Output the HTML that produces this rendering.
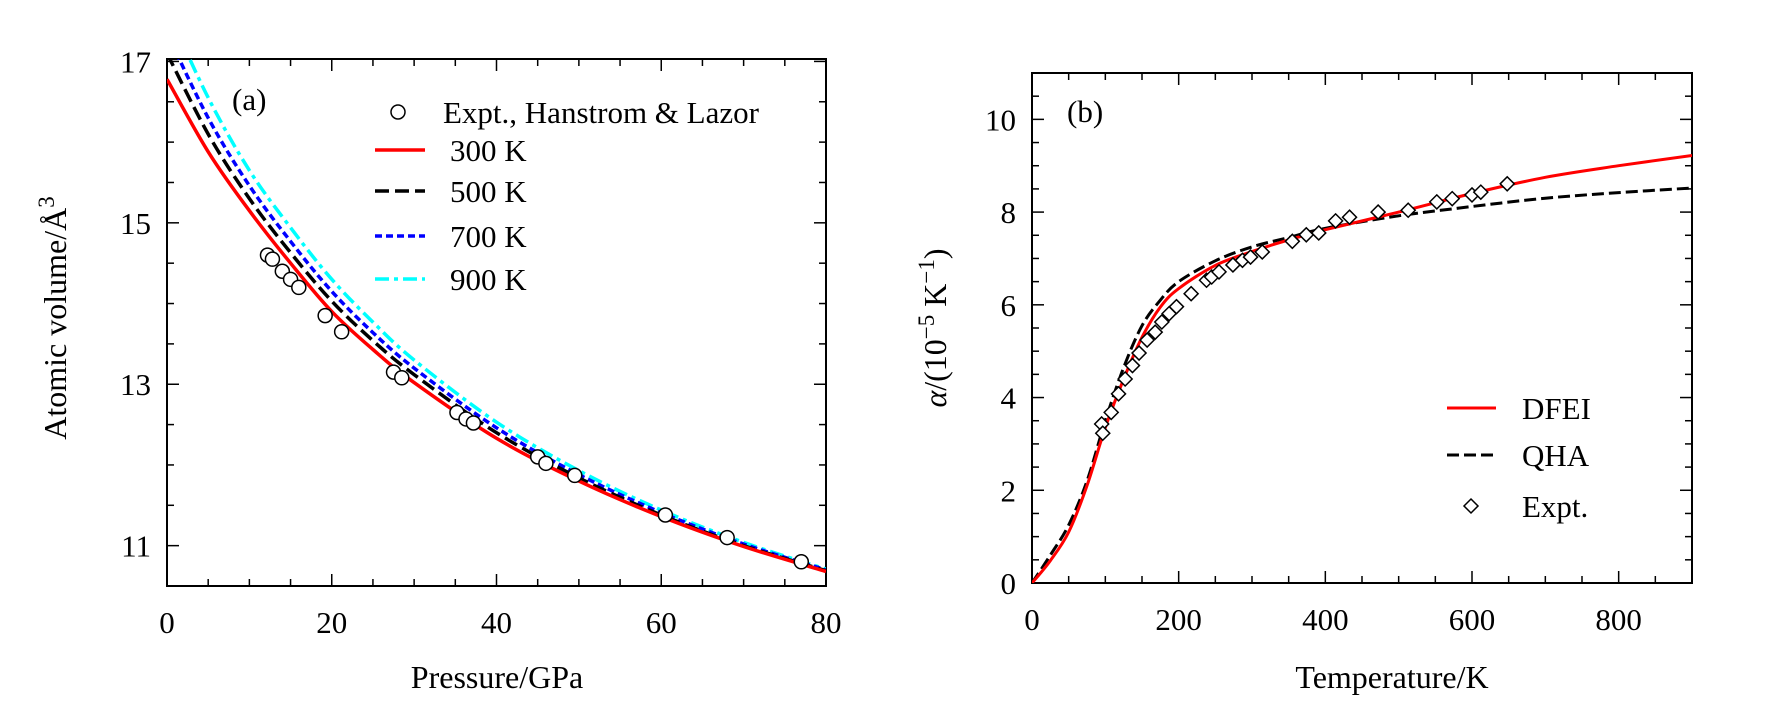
<!DOCTYPE html>
<html><head><meta charset="utf-8"><style>
body{margin:0;background:#fff;}
svg{display:block;font-family:"Liberation Serif",serif;}
</style></head><body>
<svg id="fig" width="1772" height="709" viewBox="0 0 1772 709"></svg>
<script>
// ---- Panel (a) data ----
const aPressure = [0,5,10,15,20,25,30,40,50,60,70,80];
const a300 = [16.78,15.88,15.15,14.5,13.9,13.43,13.02,12.33,11.8,11.36,10.99,10.68];
const a500 = [17.1,16.1,15.3,14.63,14.03,13.54,13.12,12.4,11.84,11.38,11.0,10.69];
const a700 = [17.35,16.3,15.46,14.77,14.15,13.64,13.2,12.46,11.88,11.41,11.02,10.7];
const a900 = [17.65,16.55,15.65,14.94,14.3,13.77,13.3,12.53,11.93,11.44,11.04,10.71];
const aExpP = [12.2,12.8,14,15,16,19.2,21.2,27.5,28.5,35.2,36.3,37.2,45,46,49.5,60.5,68,77];
const aExpV = [14.6,14.55,14.4,14.3,14.2,13.85,13.65,13.15,13.08,12.65,12.57,12.52,12.1,12.02,11.87,11.38,11.1,10.8];
const aXTicks = [0,20,40,60,80];
const aYTicks = [11,13,15,17];
// ---- Panel (b) data ----
const bT = [0,25,50,75,100,125,150,175,200,250,300,350,400,500,600,700,800,900];
const bDFEI = [0,0.48,1.1,2.1,3.35,4.4,5.3,5.95,6.35,6.85,7.15,7.4,7.62,8.0,8.4,8.75,9.0,9.22];
const bQHA = [0,0.6,1.25,2.2,3.5,4.65,5.55,6.1,6.5,6.95,7.25,7.45,7.65,7.92,8.12,8.3,8.42,8.52];
const bExpT = [95,96.5,108,118,127,137,146,157,168,177,187,197,217,238,245,255,274,287,298,314,355,374,391,414,433,472,513,552,573,600,612,648];
const bExpA = [3.43,3.23,3.68,4.08,4.4,4.69,4.96,5.24,5.41,5.63,5.81,5.96,6.24,6.53,6.6,6.71,6.86,6.96,7.03,7.14,7.37,7.51,7.55,7.81,7.89,8.0,8.04,8.22,8.29,8.37,8.43,8.61];
const bXTicks = [0,200,400,600,800];
const bYTicks = [0,2,4,6,8,10];

const NS="http://www.w3.org/2000/svg";
const svg=document.getElementById('fig');
function mk(tag,attrs,parent){const e=document.createElementNS(NS,tag);for(const k in attrs)e.setAttribute(k,attrs[k]);(parent||svg).appendChild(e);return e;}

const A={l:167,r:826,t:59,b:586,x0:0,x1:80,y0:10.5,y1:17.03};
const B={l:1032,r:1692,t:73,b:583,x0:0,x1:900,y0:0,y1:11.0};
function sx(P,v){return P.l+(v-P.x0)/(P.x1-P.x0)*(P.r-P.l);}
function sy(P,v){return P.b-(v-P.y0)/(P.y1-P.y0)*(P.b-P.t);}
function smooth(pts){let d='M'+pts[0][0].toFixed(1)+','+pts[0][1].toFixed(1);
 for(let i=0;i<pts.length-1;i++){const p0=pts[Math.max(0,i-1)],p1=pts[i],p2=pts[i+1],p3=pts[Math.min(pts.length-1,i+2)];
  const c1=[p1[0]+(p2[0]-p0[0])/6,p1[1]+(p2[1]-p0[1])/6],c2=[p2[0]-(p3[0]-p1[0])/6,p2[1]-(p3[1]-p1[1])/6];
  d+=' C'+c1[0].toFixed(1)+','+c1[1].toFixed(1)+' '+c2[0].toFixed(1)+','+c2[1].toFixed(1)+' '+p2[0].toFixed(1)+','+p2[1].toFixed(1);}
 return d;}

const defs=mk('defs',{});
const cpA=mk('clipPath',{id:'clipA'},defs);mk('rect',{x:A.l,y:A.t,width:A.r-A.l,height:A.b-A.t},cpA);
const cpB=mk('clipPath',{id:'clipB'},defs);mk('rect',{x:B.l,y:B.t,width:B.r-B.l,height:B.b-B.t},cpB);

function frame(P,name,xMinor,yMinor,xTicks,yTicks){
 const g=mk('g',{});
 
 
 mk('rect',{x:P.l,y:P.t,width:P.r-P.l,height:P.b-P.t,fill:'none',stroke:'#000','stroke-width':2},g);
 for(let v=P.x0;v<=P.x1+1e-6;v+=xMinor){const x=sx(P,v);const major=xTicks.some(t=>Math.abs(t-v)<1e-6);const L=major?12:7;
  mk('line',{x1:x,y1:P.b,x2:x,y2:P.b-L,stroke:'#000','stroke-width':1.5},g);mk('line',{x1:x,y1:P.t,x2:x,y2:P.t+L,stroke:'#000','stroke-width':1.5},g);}
 let start=Math.ceil(P.y0/yMinor-1e-6)*yMinor;
 for(let v=start;v<=P.y1+1e-6;v+=yMinor){const y=sy(P,v);const major=yTicks.some(t=>Math.abs(t-v)<1e-6);const L=major?12:7;
  mk('line',{x1:P.l,y1:y,x2:P.l+L,y2:y,stroke:'#000','stroke-width':1.5},g);mk('line',{x1:P.r,y1:y,x2:P.r-L,y2:y,stroke:'#000','stroke-width':1.5},g);}
 xTicks.forEach(t=>{const e=mk('text',{x:sx(P,t),y:P.b+47,'font-size':31,'text-anchor':'middle'},g);e.textContent=t;
  });
 yTicks.forEach(t=>{const e=mk('text',{x:P.l-16,y:sy(P,t)+11,'font-size':31,'text-anchor':'end'},g);e.textContent=t;
  });
}
frame(A,'panel-a',5,0.5,aXTicks,aYTicks);
frame(B,'panel-b',50,0.5,bXTicks,bYTicks);

const gA=mk('g',{'clip-path':'url(#clipA)'});
const aSeries=[[a300,'#f00','none','series-300k'],[a500,'#000','14,6','series-500k'],[a700,'#00f','7,4','series-700k'],[a900,'#0ff','14,5,4,5','series-900k']];
aSeries.slice().reverse().forEach(s=>{
 const p=mk('path',{d:smooth(aPressure.map((P,i)=>[sx(A,P),sy(A,s[0][i])])),fill:'none',stroke:s[1],'stroke-width':3.5,'stroke-dasharray':s[2]},gA);
 });
aExpP.forEach((P,i)=>{const c=mk('circle',{cx:sx(A,P),cy:sy(A,aExpV[i]),r:7,fill:'#fff',stroke:'#000','stroke-width':1.5});
 });

const gB=mk('g',{'clip-path':'url(#clipB)'});
const pq=mk('path',{d:smooth(bT.map((t,i)=>[sx(B,t),sy(B,bQHA[i])])),fill:'none',stroke:'#000','stroke-width':3,'stroke-dasharray':'12,5'},gB);

const pd=mk('path',{d:smooth(bT.map((t,i)=>[sx(B,t),sy(B,bDFEI[i])])),fill:'none',stroke:'#f00','stroke-width':3},gB);

bExpT.forEach((t,i)=>{const x=sx(B,t),y=sy(B,bExpA[i]);const d=mk('polygon',{points:`${x},${y-7} ${x+7},${y} ${x},${y+7} ${x-7},${y}`,fill:'#fff',stroke:'#000','stroke-width':1.5});
 });
</script>
<svg width="1772" height="709" style="position:absolute;left:0;top:0">
 <g font-family="Liberation Serif, serif" font-size="31">
  <text x="232" y="110">(a)</text>
  <circle cx="398" cy="112" r="7" fill="#fff" stroke="#000" stroke-width="1.5"/>
  <text x="443" y="123">Expt., Hanstrom &amp; Lazor</text>
  <line x1="375" y1="150" x2="425" y2="150" stroke="#f00" stroke-width="3.5"/>
  <text x="450" y="161">300 K</text>
  <line x1="375" y1="191" x2="425" y2="191" stroke="#000" stroke-width="3.5" stroke-dasharray="14,6"/>
  <text x="450" y="202">500 K</text>
  <line x1="375" y1="236" x2="425" y2="236" stroke="#00f" stroke-width="3.5" stroke-dasharray="7,4"/>
  <text x="450" y="247">700 K</text>
  <line x1="375" y1="279" x2="425" y2="279" stroke="#0ff" stroke-width="3.5" stroke-dasharray="14,5,4,5"/>
  <text x="450" y="290">900 K</text>
  <text x="497" y="688" text-anchor="middle" font-size="32">Pressure/GPa</text>
  <text transform="translate(66,318) rotate(-90)" text-anchor="middle" font-size="32">Atomic volume/Å<tspan dy="-12" font-size="23">3</tspan></text>
  <text x="1067" y="122">(b)</text>
  <line x1="1447" y1="408" x2="1496" y2="408" stroke="#f00" stroke-width="3"/>
  <text x="1522" y="419">DFEI</text>
  <line x1="1447" y1="455" x2="1496" y2="455" stroke="#000" stroke-width="3" stroke-dasharray="12,5"/>
  <text x="1522" y="466">QHA</text>
  <polygon points="1471,499 1478,506 1471,513 1464,506" fill="#fff" stroke="#000" stroke-width="1.5"/>
  <text x="1522" y="517">Expt.</text>
  <text x="1392" y="688" text-anchor="middle" font-size="32">Temperature/K</text>
  <text transform="translate(946,328) rotate(-90)" text-anchor="middle" font-size="32"><tspan font-style="italic">α</tspan>/(10<tspan dy="-12" font-size="23">−5</tspan><tspan dy="12"> K</tspan><tspan dy="-12" font-size="23">−1</tspan><tspan dy="12">)</tspan></text>
 </g>
</svg>
</body></html>
